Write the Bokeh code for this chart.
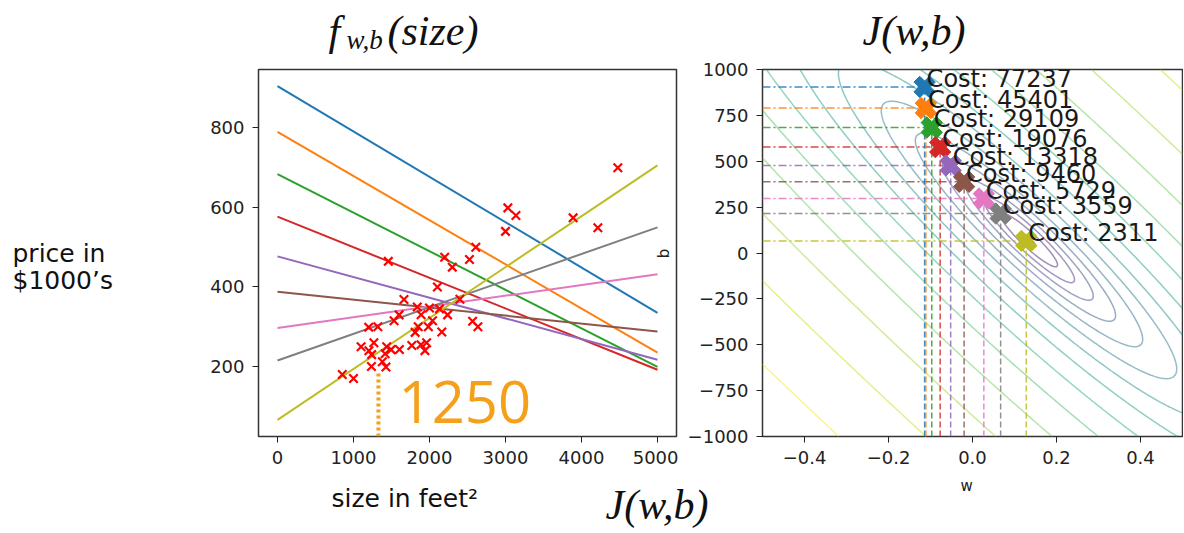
import numpy as np
from bokeh.plotting import figure
from bokeh.layouts import row, column
from bokeh.models import Range1d, FixedTicker, Label
from bokeh.palettes import viridis
from bokeh.embed import file_html
from bokeh.resources import INLINE
from bokeh.core.properties import value

# ---------------- data ----------------
size_sqft = [2104, 1600, 2400, 1416, 3000, 1985, 1534, 1427, 1380, 1494, 1940, 2000,
             1890, 4478, 1268, 2300, 1320, 1236, 2609, 3031, 1767, 1888, 1604, 1962,
             3890, 1100, 1458, 2526, 2200, 2637, 1839, 1000, 2040, 3137, 1811, 1437,
             1239, 2132, 4215, 2162, 1664, 2238, 2567, 1200, 852, 1852, 1203]
price_k = [399.9, 329.9, 369.0, 232.0, 539.9, 299.9, 314.9, 199.0, 212.0, 242.5, 240.0, 347.0,
           330.0, 699.9, 259.9, 449.9, 299.9, 199.9, 500.0, 599.0, 252.9, 255.0, 242.9, 259.9,
           573.9, 249.9, 464.5, 469.0, 475.0, 299.9, 349.9, 169.9, 314.9, 579.9, 285.9, 249.9,
           229.9, 345.0, 549.0, 287.0, 368.5, 329.9, 314.0, 299.0, 179.9, 299.9, 239.5]

w_steps = [-0.114, -0.111, -0.097, -0.077, -0.052, -0.020, 0.027, 0.067, 0.128]
b_steps = [905, 790, 684, 577, 477, 388, 297, 215, 66]
costs = [77237, 45401, 29109, 19076, 13318, 9460, 5729, 3559, 2311]
contour_levels = [2150, 3500, 5700, 9300, 15200, 24700, 40300, 65700, 107000,
                  175000, 285000, 465000, 760000, 1240000, 2020000]
size_span = [0, 5000]
annot_size = 1328       # hand-drawn dotted marker ("1250")
annot_top = 187

left_xticks = [0, 1000, 2000, 3000, 4000, 5000]
left_yticks = [200, 400, 600, 800]
right_xticks = [-0.4, -0.2, 0.0, 0.2, 0.4]
right_yticks = [-1000, -750, -500, -250, 0, 250, 500, 750, 1000]

tab10 = ["#1f77b4", "#ff7f0e", "#2ca02c", "#d62728", "#9467bd",
         "#8c564b", "#e377c2", "#7f7f7f", "#bcbd22"]

# ---------------- geometry (page pixels) ----------------
TOP_H = 55
ROW_BOTTOM = 472
BOT_H = 58
LEFT_TXT_W = 130
L_X = (-250, 5250)
L_Y = (24, 947)
R_X = (-0.5, 0.5)
R_Y = (-1000, 1000)
FR_TOP, FR_BOT = 69, 436
L_LEFT, L_RIGHT = 258, 676
SPLIT = 678
R_LEFT, R_RIGHT = 762, 1182
TOTAL_W = 1183
MID = 0.335   # baseline sits this many font-sizes below a "middle" anchor


def lx(px): return L_X[0] + (px - L_LEFT) * (L_X[1] - L_X[0]) / (L_RIGHT - L_LEFT)
def ly(py): return L_Y[1] - (py - FR_TOP) * (L_Y[1] - L_Y[0]) / (FR_BOT - FR_TOP)


def style_axes(p, xt, yt, xover=None, yover=None):
    p.xaxis.ticker = FixedTicker(ticks=xt)
    p.yaxis.ticker = FixedTicker(ticks=yt)
    if xover:
        p.xaxis.major_label_overrides = xover
    if yover:
        p.yaxis.major_label_overrides = yover
    for ax in (p.xaxis[0], p.yaxis[0]):
        ax.axis_line_color = None
        ax.major_tick_line_color = "#222222"
        ax.major_tick_out = 6
        ax.major_tick_in = 0
        ax.minor_tick_line_color = None
        ax.major_label_text_font = "DejaVu Sans"
        ax.major_label_text_font_size = "18px"
        ax.major_label_text_color = "#222222"
        ax.major_label_standoff = 8
    p.xgrid.visible = False
    p.ygrid.visible = False
    p.outline_line_color = "#333333"
    p.outline_line_width = 1.5
    p.background_fill_color = "white"
    p.border_fill_color = "white"


def text_canvas(x0, y0, w, h, top_b=0, bot_b=0):
    # frame covers page rows y0+top_b .. y0+h-bot_b ; data y == page y
    f = figure(width=w, height=h, x_range=Range1d(x0, x0 + w),
               y_range=Range1d(y0 + h - bot_b, y0 + top_b),
               min_border_left=0, min_border_right=0,
               min_border_top=top_b, min_border_bottom=bot_b,
               x_axis_type=None, y_axis_type=None,
               output_backend="svg", toolbar_location=None)
    f.outline_line_color = None
    f.xgrid.visible = False
    f.ygrid.visible = False
    f.border_fill_color = "white"
    return f


def put(f, x, baseline, text, font="DejaVu Sans", size=25, style="normal", color="#111111"):
    f.text(x=[x], y=[baseline - MID * size], text=[text], text_font=value(font),
           text_font_size=f"{size}px", text_font_style=style, text_color=color,
           text_align="left", text_baseline="middle")


# ---------------- left plot ----------------
p1 = figure(width=SPLIT - LEFT_TXT_W, height=ROW_BOTTOM - TOP_H,
            x_range=Range1d(*L_X), y_range=Range1d(*L_Y),
            output_backend="svg", toolbar_location=None,
            min_border_left=L_LEFT - LEFT_TXT_W, min_border_right=SPLIT - L_RIGHT,
            min_border_top=FR_TOP - TOP_H, min_border_bottom=ROW_BOTTOM - FR_BOT)
style_axes(p1, left_xticks, left_yticks)

xs = [list(size_span) for _ in w_steps]
ys = [[w * size_span[0] + b, w * size_span[1] + b] for w, b in zip(w_steps, b_steps)]
p1.multi_line(xs=xs, ys=ys, line_color=tab10, line_width=2)
p1.scatter(size_sqft, price_k, marker="x", size=12, line_width=2.2, color="red")
p1.line([annot_size, annot_size], [L_Y[0], annot_top], line_color="#f5a01a",
        line_width=4, line_dash="3 3")
p1.add_layout(Label(x=lx(398), y=ly(424 - 0.39 * 58), text="1250", text_font="Open Sans",
                    text_font_size="58px", text_color="#f5a01a",
                    text_baseline="middle"))
p1.add_layout(Label(x=lx(663), y=ly(253), text="b", text_font="DejaVu Sans",
                    text_font_size="15px", text_color="#222222", text_align="center",
                    text_baseline="middle", angle=np.pi / 2))

# ---------------- right plot ----------------
p2 = figure(width=TOTAL_W - SPLIT, height=ROW_BOTTOM - TOP_H,
            x_range=Range1d(*R_X), y_range=Range1d(*R_Y),
            output_backend="svg", toolbar_location=None,
            min_border_left=R_LEFT - SPLIT, min_border_right=TOTAL_W - R_RIGHT,
            min_border_top=FR_TOP - TOP_H, min_border_bottom=ROW_BOTTOM - FR_BOT)
style_axes(p2, right_xticks, right_yticks,
           xover={t: f"{t:.1f}".replace("-", "\u2212") for t in right_xticks},
           yover={t: str(t).replace("-", "\u2212") for t in right_yticks})

wg = np.linspace(R_X[0], R_X[1], 241)
bg = np.linspace(R_Y[0], R_Y[1], 241)
W, B = np.meshgrid(wg, bg)
xa = np.asarray(size_sqft, dtype=float)
ya = np.asarray(price_k, dtype=float)
J = ((W[..., None] * xa + B[..., None] - ya) ** 2).mean(axis=-1) / 2.0

p2.contour(x=wg, y=bg, z=J, levels=contour_levels,
           line_color=viridis(len(contour_levels)), line_width=1.5, line_alpha=0.5)

p2.segment(x0=[R_X[0]] * len(w_steps), y0=b_steps, x1=w_steps, y1=b_steps,
           line_color=tab10, line_width=1.5, line_alpha=0.85, line_dash="8 3 2 3")
p2.segment(x0=w_steps, y0=[R_Y[0]] * len(w_steps), x1=w_steps, y1=b_steps,
           line_color=tab10, line_width=1.5, line_alpha=0.85, line_dash="6 3")
p2.scatter(w_steps, b_steps, marker="plus", angle=np.pi / 4, size=22,
           fill_color=tab10, line_color=tab10)
p2.text(x=w_steps, y=b_steps, text=[f"Cost: {c}" for c in costs],
        text_font=value("DejaVu Sans"), text_font_size="24px",
        text_color="#1a1a1a", text_align="left", text_baseline="middle",
        x_offset=2, y_offset=-8)

# ---------------- text areas ----------------
top = text_canvas(0, 0, TOTAL_W, TOP_H)
put(top, 328, 45, "f", font="Liberation Serif", size=42, style="italic")
put(top, 346, 49, "w,b", font="Liberation Serif", size=27, style="italic")
put(top, 387, 45, "(size)", font="Liberation Serif", size=42, style="italic")
put(top, 862, 45, "J(w,b)", font="Liberation Serif", size=42, style="italic")

left_txt = text_canvas(0, TOP_H, LEFT_TXT_W, ROW_BOTTOM - TOP_H,
                       top_b=FR_TOP - TOP_H, bot_b=ROW_BOTTOM - FR_BOT)
put(left_txt, 12, 261, "price in")
put(left_txt, 12, 288, "$1000\u2019s")

bottom = text_canvas(0, ROW_BOTTOM, TOTAL_W, BOT_H)
put(bottom, 960, 491, "w", size=15, color="#222222")
put(bottom, 331, 506, "size in feet\u00b2")
put(bottom, 605, 519, "J(w,b)", font="Liberation Serif", size=42, style="italic")

layout = column(top, row(left_txt, p1, p2, spacing=0), bottom, spacing=0)
open("out.html", "w").write(file_html(layout, INLINE))
